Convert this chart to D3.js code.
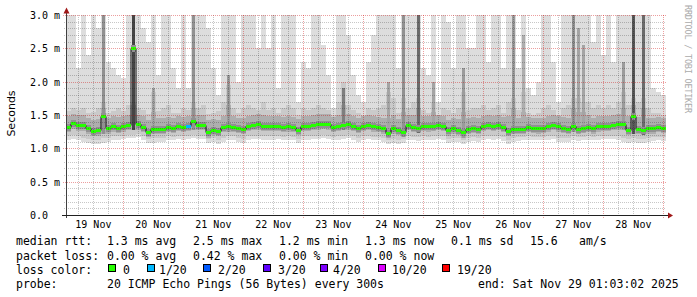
<!DOCTYPE html>
<html><head><meta charset="utf-8">
<script src="https://cdn.jsdelivr.net/npm/d3@7"></script>
<style>body{margin:0;background:#fff}svg{display:block}text{font-family:"DejaVu Sans Mono",monospace}</style>
</head><body><svg id="c" width="697" height="297"></svg>
<script>
// ---- data: 120 two-hour columns, 19 Nov 01:03 .. 29 Nov 01:03 (ms) ----
const median = [
1.32,1.38,1.35,1.35,1.30,1.26,1.27,1.49,1.30,1.33,
1.31,1.33,1.35,2.50,1.36,1.32,1.25,1.29,1.29,1.29,
1.32,1.31,1.34,1.32,1.34,1.41,1.35,1.35,1.24,1.28,
1.26,1.32,1.33,1.32,1.31,1.29,1.34,1.35,1.36,1.34,
1.34,1.34,1.34,1.32,1.33,1.32,1.28,1.34,1.34,1.35,
1.36,1.37,1.36,1.32,1.34,1.35,1.36,1.34,1.31,1.34,
1.35,1.33,1.32,1.30,1.23,1.30,1.28,1.25,1.35,1.32,
1.31,1.34,1.33,1.34,1.35,1.34,1.27,1.30,1.28,1.24,
1.29,1.31,1.29,1.34,1.35,1.34,1.35,1.32,1.26,1.29,
1.29,1.29,1.32,1.31,1.30,1.31,1.33,1.35,1.33,1.31,
1.29,1.33,1.29,1.31,1.32,1.30,1.33,1.34,1.34,1.35,
1.36,1.36,1.28,1.49,1.29,1.28,1.30,1.30,1.32,1.31];
const smokeTop = [
3.1,3.1,2.2,3.1,2.4,3.1,2.8,3.1,2.3,2.2,
2.1,2.05,3.1,3.1,3.1,2.8,2.6,3.1,2.1,3.1,
3.1,2.2,1.9,3.1,1.9,3.1,3.1,3.1,2.8,2.2,
1.8,3.1,3.1,3.1,2.0,3.1,3.1,3.1,2.5,3.1,
2.5,3.1,1.9,3.1,3.1,3.1,1.7,2.3,2.2,3.1,
3.1,2.55,2.1,1.6,3.1,3.1,2.7,2.1,1.8,1.7,
2.3,2.7,3.1,3.1,3.1,3.1,2.2,3.1,3.1,3.1,
3.1,2.2,2.1,3.1,1.7,3.1,2.9,2.2,3.1,3.1,
2.5,2.5,3.1,3.1,2.3,3.1,3.1,2.2,3.1,3.1,
2.2,3.1,1.9,1.8,2.0,3.1,3.1,2.3,1.7,3.1,
3.1,3.1,3.1,3.1,3.1,2.6,3.1,2.4,3.1,2.3,
3.1,3.1,3.1,3.1,3.1,3.1,3.1,1.9,1.85,1.8];
const smokeMidTop = [
1.56,1.60,1.57,1.60,1.53,1.55,1.60,1.70,1.53,1.56,
1.60,1.56,1.65,1.70,1.60,1.57,1.52,1.85,1.56,1.60,
1.65,1.53,1.53,1.60,1.57,1.70,1.60,1.65,1.52,1.53,
1.56,1.70,1.95,1.60,1.53,1.60,1.65,1.60,1.57,1.70,
1.57,1.60,1.53,1.60,1.65,1.60,1.50,1.60,1.57,1.60,
1.65,1.60,1.57,1.50,1.70,2.00,1.65,1.57,1.53,1.50,
1.60,1.57,1.60,1.65,1.85,1.75,1.53,1.75,1.60,1.70,
1.75,1.57,1.53,1.70,1.50,1.60,1.57,1.53,1.60,1.85,
1.57,1.60,1.60,1.65,1.57,1.60,1.65,1.53,1.70,1.75,
1.57,1.85,1.53,1.50,1.53,1.60,1.65,1.57,1.50,1.60,
1.65,1.75,1.75,1.70,1.70,1.60,1.65,1.60,1.65,1.60,
1.70,1.85,1.65,1.75,1.70,1.75,1.60,1.53,1.53,1.50];
const smokeInTop = [
1.48,1.52,1.50,1.50,1.46,1.43,1.44,1.60,1.46,1.48,
1.47,1.48,1.50,1.65,1.50,1.48,1.42,1.55,1.45,1.45,
1.47,1.46,1.49,1.47,1.49,1.60,1.50,1.50,1.42,1.44,
1.43,1.48,1.65,1.48,1.46,1.45,1.49,1.50,1.51,1.50,
1.49,1.49,1.48,1.47,1.48,1.47,1.44,1.49,1.49,1.50,
1.51,1.52,1.51,1.47,1.50,1.65,1.51,1.49,1.46,1.48,
1.50,1.48,1.47,1.46,1.45,1.50,1.44,1.55,1.50,1.50,
1.60,1.49,1.48,1.55,1.50,1.49,1.43,1.46,1.44,1.55,
1.45,1.47,1.45,1.49,1.50,1.49,1.50,1.47,1.48,1.60,
1.45,1.55,1.47,1.46,1.45,1.46,1.48,1.50,1.48,1.47,
1.46,1.60,1.55,1.55,1.50,1.46,1.48,1.49,1.49,1.50,
1.52,1.60,1.48,1.65,1.47,1.60,1.46,1.46,1.47,1.46];
const smokeBottom = [
1.12,1.14,1.13,1.10,1.08,1.07,1.07,1.08,1.10,1.12,
1.13,1.14,1.15,1.15,1.17,1.13,1.08,1.08,1.09,1.10,
1.12,1.12,1.14,1.13,1.14,1.15,1.14,1.14,1.08,1.09,
1.07,1.10,1.12,1.13,1.09,1.08,1.13,1.14,1.14,1.13,
1.13,1.13,1.14,1.12,1.13,1.12,1.08,1.12,1.13,1.14,
1.14,1.15,1.14,1.12,1.13,1.14,1.15,1.13,1.10,1.12,
1.14,1.12,1.12,1.10,1.06,1.08,1.07,1.08,1.13,1.12,
1.11,1.13,1.12,1.13,1.14,1.12,1.08,1.10,1.09,1.06,
1.09,1.11,1.09,1.13,1.14,1.13,1.14,1.11,1.07,1.09,
1.11,1.12,1.13,1.12,1.12,1.12,1.13,1.14,1.10,1.09,
1.10,1.12,1.11,1.12,1.13,1.12,1.13,1.14,1.14,1.14,
1.12,1.10,1.08,1.09,1.08,1.08,1.10,1.11,1.12,1.11];
const smokeMidBottom = [
1.18,1.20,1.19,1.16,1.14,1.13,1.13,1.15,1.16,1.18,
1.18,1.19,1.20,1.20,1.21,1.18,1.14,1.15,1.15,1.16,
1.18,1.17,1.19,1.18,1.19,1.20,1.19,1.19,1.14,1.15,
1.13,1.16,1.18,1.18,1.15,1.14,1.18,1.19,1.19,1.18,
1.18,1.18,1.19,1.17,1.18,1.17,1.14,1.18,1.18,1.19,
1.19,1.20,1.19,1.17,1.18,1.19,1.20,1.18,1.16,1.18,
1.19,1.17,1.17,1.16,1.12,1.14,1.13,1.14,1.18,1.17,
1.17,1.18,1.17,1.18,1.19,1.18,1.14,1.16,1.15,1.12,
1.15,1.17,1.15,1.18,1.19,1.18,1.19,1.17,1.13,1.15,
1.17,1.17,1.18,1.17,1.17,1.17,1.18,1.19,1.16,1.15,
1.16,1.18,1.17,1.17,1.18,1.17,1.18,1.19,1.19,1.19,
1.18,1.16,1.14,1.15,1.14,1.14,1.16,1.17,1.17,1.17];
const smokeInBottom = [
1.24,1.29,1.26,1.26,1.22,1.18,1.19,1.22,1.22,1.25,
1.23,1.25,1.27,1.27,1.28,1.24,1.17,1.21,1.21,1.21,
1.24,1.23,1.26,1.24,1.26,1.28,1.27,1.27,1.16,1.20,
1.18,1.24,1.25,1.24,1.23,1.21,1.26,1.27,1.28,1.26,
1.26,1.26,1.26,1.24,1.25,1.24,1.20,1.26,1.26,1.27,
1.28,1.29,1.28,1.24,1.26,1.27,1.28,1.26,1.23,1.26,
1.27,1.25,1.24,1.22,1.15,1.22,1.20,1.17,1.27,1.24,
1.23,1.26,1.25,1.26,1.27,1.26,1.19,1.22,1.20,1.16,
1.21,1.23,1.21,1.26,1.27,1.26,1.27,1.24,1.18,1.21,
1.21,1.21,1.24,1.23,1.22,1.23,1.25,1.27,1.25,1.23,
1.21,1.25,1.21,1.23,1.24,1.22,1.25,1.26,1.26,1.27,
1.28,1.28,1.20,1.22,1.21,1.20,1.22,1.22,1.24,1.23];
// columns where many pings were slow (dense smoke up high)
const spikeCol   = [7,13,17,25,32,55,64,67,70,73,79,89,91,101,102,103,111,113,115];
const spikeTop   = [3.1,3.1,1.9,3.1,2.1,1.9,2.0,3.1,3.1,2.0,2.2,3.1,2.7,3.1,2.8,2.55,2.3,3.1,3.1];
const spikeDepth = [5,9,4,5,4.5,6,4,5,7,4,4.5,4.5,3.5,5,4,4,4.5,8,7];
// packet loss per column (sparse)
const lossCol = [24];
const lossCount = [1];
// legend
const lossSteps = [0,1,2,3,4,10,19];
const lossLabels = ["0","1/20","2/20","3/20","4/20","10/20","19/20"];
const lossColors = ["#26ff00","#00b8ff","#0059ff","#5e00ff","#7e00ff","#dd00ff","#ff0000"];
const yTicks = [0,0.5,1,1.5,2,2.5,3];
const yTickLabels = ["0.0","0.5 m","1.0 m","1.5 m","2.0 m","2.5 m","3.0 m"];
const rttStats = ["1.3 ms avg","2.5 ms max","1.2 ms min","1.3 ms now","0.1 ms sd","15.6","am/s"];
const lossStats = ["0.00 % avg","0.42 % max","0.00 % min","0.00 % now"];
const probeText = "20 ICMP Echo Pings (56 Bytes) every 300s";
const endText = "end: Sat Nov 29 01:03:02 2025";

// ---- drawing ----
const T0 = new Date(Date.UTC(2025,10,19,1,3,2)), T1 = new Date(Date.UTC(2025,10,29,1,3,2));
const STEP = 2*3600*1000, N = median.length;
const colT = k => new Date(+T0 + k*STEP);
const L = 66, R = 666, TOP = 15, BOT = 215;
const x = d3.scaleUtc().domain([T0,T1]).range([L,R]);
const y = d3.scaleLinear().domain([0,3]).range([BOT,TOP]);
const grayLevel = d3.scaleLinear().domain([1,10]).range([221,50]);
const shade = d => { const g = Math.round(grayLevel(d)); return d3.rgb(g,g,g).formatHex(); };

const svg = d3.select("#c");
svg.append("defs").append("clipPath").attr("id","pc").append("rect")
  .attr("x",L).attr("y",TOP).attr("width",R-L).attr("height",BOT-TOP);
const plot = svg.append("g").attr("clip-path","url(#pc)");
const ks = d3.range(N);

function band(lo, hi, depth){
  plot.append("g").selectAll("rect").data(ks).join("rect")
    .attr("x",k=>x(colT(k))).attr("width",k=>x(colT(k+1))-x(colT(k)))
    .attr("y",k=>y(hi[k])).attr("height",k=>Math.max(0,y(lo[k])-y(hi[k])))
    .attr("fill",shade(depth)).attr("shape-rendering","crispEdges");
}
band(smokeBottom, smokeTop, 1);
band(smokeMidBottom, smokeMidTop, 2.0);
band(smokeInBottom, smokeInTop, 3.5);
// dense columns (narrow)
plot.append("g").selectAll("rect").data(spikeCol).join("rect")
  .attr("x",(c)=>x(colT(c))+1).attr("width",3)
  .attr("y",(c,i)=>y(spikeTop[i])).attr("height",(c,i)=>y(smokeInBottom[c])-y(spikeTop[i]))
  .attr("fill",(c,i)=>shade(spikeDepth[i])).attr("shape-rendering","crispEdges");
// core around median
plot.append("g").selectAll("rect").data(ks).join("rect")
  .attr("x",k=>x(colT(k))).attr("width",k=>x(colT(k+1))-x(colT(k)))
  .attr("y",k=>Math.round(y(median[k]))-3).attr("height",7)
  .attr("fill",shade(5)).attr("shape-rendering","crispEdges");

// grid (translucent, on top of smoke)
const grid = svg.append("g").attr("shape-rendering","crispEdges").attr("stroke-dasharray","1,1");
const minorC = "rgba(0,0,0,0.22)", majorC = "rgba(205,0,0,0.38)";
const minorH = d3.range(0,31).map(i=>i/10).filter(v=>Math.round(v*10)%5!==0);
grid.selectAll(".mh").data(minorH).join("line")
  .attr("x1",L-2).attr("x2",R).attr("y1",v=>Math.round(y(v))+0.5).attr("y2",v=>Math.round(y(v))+0.5)
  .attr("stroke",minorC);
const hours6 = d3.utcHour.every(6).range(T0,T1).filter(d=>d.getUTCHours()!==0);
grid.selectAll(".mv").data(hours6).join("line")
  .attr("x1",d=>Math.round(x(d))+0.5).attr("x2",d=>Math.round(x(d))+0.5).attr("y1",TOP).attr("y2",BOT+2)
  .attr("stroke",minorC);
grid.selectAll(".Mh").data(yTicks).join("line")
  .attr("x1",L-3).attr("x2",R).attr("y1",v=>Math.round(y(v))+0.5).attr("y2",v=>Math.round(y(v))+0.5)
  .attr("stroke",majorC);
const days = d3.utcDay.range(T0,T1);
grid.selectAll(".Mv").data(days).join("line")
  .attr("x1",d=>Math.round(x(d))+0.5).attr("x2",d=>Math.round(x(d))+0.5).attr("y1",TOP).attr("y2",BOT+3)
  .attr("stroke",majorC);

// median line: dark step line + loss-coloured bars
const stepPts = [];
ks.forEach(k=>{ stepPts.push([x(colT(k)),Math.round(y(median[k]))+0.5]); stepPts.push([x(colT(k+1)),Math.round(y(median[k]))+0.5]); });
plot.append("path").attr("d",d3.line()(stepPts)).attr("fill","none").attr("stroke","#101010").attr("stroke-width",1);
const lossColor = d3.scaleThreshold().domain(lossSteps.slice(1)).range(lossColors);
const lossOf = k => { const i = lossCol.indexOf(k); return i<0 ? 0 : lossCount[i]; };
plot.append("g").selectAll("rect").data(ks).join("rect")
  .attr("x",k=>x(colT(k))).attr("width",k=>x(colT(k+1))-x(colT(k)))
  .attr("y",k=>Math.round(y(median[k]))-1).attr("height",3)
  .attr("fill",k=>lossColor(lossOf(k))).attr("shape-rendering","crispEdges");

// axes
const ax = svg.append("g").attr("shape-rendering","crispEdges");
ax.append("line").attr("x1",L+0.5).attr("x2",L+0.5).attr("y1",BOT+3).attr("y2",10).attr("stroke","#404040");
ax.append("line").attr("x1",L-4).attr("x2",R+3).attr("y1",BOT+0.5).attr("y2",BOT+0.5).attr("stroke","#202020");
svg.append("path").attr("d",`M${L-2.5},13.5 L${L+3.5},13.5 L${L+0.5},7.5 Z`).attr("fill","#a01818");
svg.append("path").attr("d",`M${R+2},${BOT-2.5} L${R+2},${BOT+3.5} L${R+7},${BOT+0.5} Z`).attr("fill","#a01818");

svg.append("g").selectAll("text").data(yTicks).join("text")
  .attr("x",30).attr("y",v=>y(v)+4).attr("font-size","10px").attr("fill","#000")
  .text((v,i)=>yTickLabels[i]);
const fmt = d3.utcFormat("%d %b");
const noons = d3.utcHour.range(T0,T1).filter(d=>d.getUTCHours()===12);
svg.append("g").selectAll("text").data(noons).join("text")
  .attr("x",d=>x(d)).attr("y",228).attr("text-anchor","middle").attr("font-size","10px").attr("fill","#000")
  .text(d=>fmt(d));

svg.append("text").attr("transform","translate(15,113.5) rotate(-90)").attr("text-anchor","middle")
  .style("font-family","'DejaVu Sans'").attr("font-size","11px").text("Seconds");
svg.append("text").attr("transform","translate(685,5) rotate(90)").attr("font-size","8.5px")
  .attr("fill","#aaaaaa").attr("textLength",108).attr("lengthAdjust","spacing").text("RRDTOOL / TOBI OETIKER");

// legend
const lg = svg.append("g").attr("font-size","11.5px").attr("fill","#000");
const rttX = [107,193,279,365,451,530,579];
lg.append("text").attr("x",16).attr("y",245).text("median rtt:");
rttStats.forEach((s,i)=>lg.append("text").attr("x",rttX[i]).attr("y",245).text(s));
lg.append("text").attr("x",16).attr("y",260).text("packet loss:");
lossStats.forEach((s,i)=>lg.append("text").attr("x",rttX[i]).attr("y",260).text(s));
lg.append("text").attr("x",16).attr("y",274).text("loss color:");
const boxX = [108,147,203,263,320,378,442];
const labX = [123,159,218,278,333,392,457];
lossLabels.forEach((s,i)=>{
  lg.append("rect").attr("x",boxX[i]+0.5).attr("y",264.5).attr("width",7).attr("height",7)
    .attr("fill",lossColors[i]).attr("stroke","#000").attr("shape-rendering","crispEdges");
  lg.append("text").attr("x",labX[i]).attr("y",274).text(s);
});
lg.append("text").attr("x",16).attr("y",288).text("probe:");
lg.append("text").attr("x",107).attr("y",288).text(probeText);
lg.append("text").attr("x",478).attr("y",288).text(endText);
</script></body></html>
